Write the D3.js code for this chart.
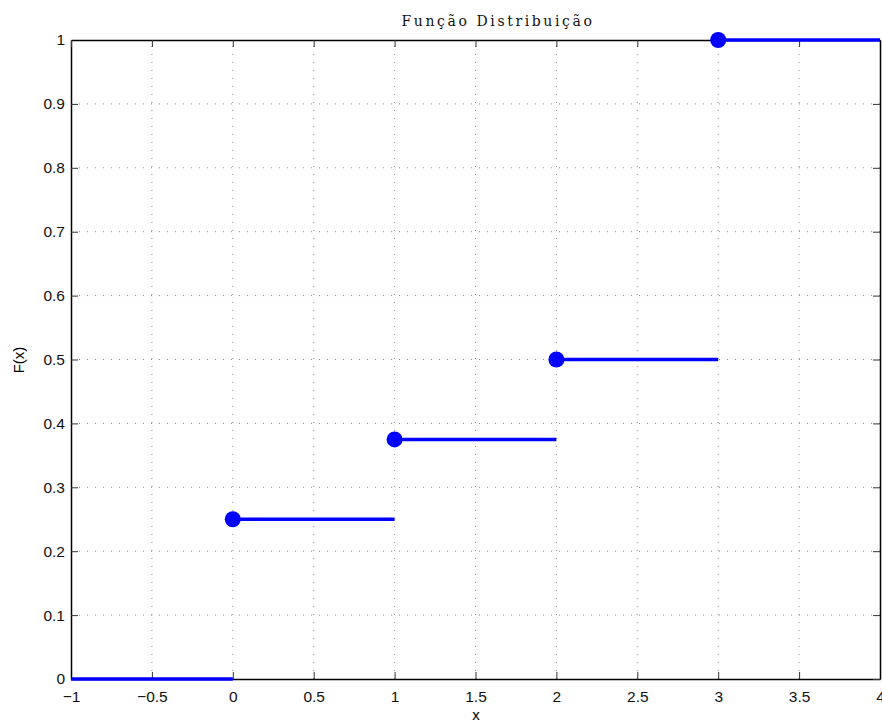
<!DOCTYPE html>
<html><head><meta charset="utf-8">
<script src="https://cdn.jsdelivr.net/npm/d3@7"></script>
<style>body{margin:0;background:#fff}svg{display:block}</style>
</head><body>
<script>
const segStart = [-1, 0, 1, 2, 3];
const segEnd   = [0, 1, 2, 3, 4];
const segValue = [0, 0.25, 0.375, 0.5, 1];
const dotX = [0, 1, 2, 3];
const dotY = [0.25, 0.375, 0.5, 1];
const xTicks = [-1, -0.5, 0, 0.5, 1, 1.5, 2, 2.5, 3, 3.5, 4];
const yTicks = [0, 0.1, 0.2, 0.3, 0.4, 0.5, 0.6, 0.7, 0.8, 0.9, 1];
const titleText = "Função Distribuição";
const xLabel = "x", yLabel = "F(x)";

const W = 882, H = 723;
const m = {left: 71, right: 2, top: 40, bottom: 44};
const svg = d3.select("body").append("svg").attr("width", W).attr("height", H);
const x = d3.scaleLinear().domain([-1, 4]).range([m.left, W - m.right]);
const y = d3.scaleLinear().domain([0, 1]).range([H - m.bottom, m.top]);
const fmt = d => d < 0 ? "\u2212" + Math.abs(d) : String(d);

// grid
const g = svg.append("g");
g.selectAll(".gx").data(xTicks.slice(1, -1)).join("line")
  .attr("x1", d => x(d)).attr("x2", d => x(d)).attr("y1", y(0)).attr("y2", y(1))
  .attr("stroke", "#888").attr("stroke-width", 1).attr("stroke-dasharray", "1,7");
g.selectAll(".gy").data(yTicks.slice(1, -1)).join("line")
  .attr("y1", d => y(d)).attr("y2", d => y(d)).attr("x1", x(-1)).attr("x2", x(4))
  .attr("stroke", "#888").attr("stroke-width", 1).attr("stroke-dasharray", "1,7");

// axes
const ax = svg.append("g").attr("transform", `translate(0,${y(0)})`)
  .call(d3.axisBottom(x).tickValues(xTicks).tickFormat(fmt).tickSizeInner(-7).tickSizeOuter(0).tickPadding(12));
const ay = svg.append("g").attr("transform", `translate(${x(-1)},0)`)
  .call(d3.axisLeft(y).tickValues(yTicks).tickFormat(d => String(d)).tickSizeInner(-7).tickSizeOuter(0).tickPadding(6));
const at = svg.append("g").attr("transform", `translate(0,${y(1)})`)
  .call(d3.axisTop(x).tickValues(xTicks).tickFormat("").tickSizeInner(-7).tickSizeOuter(0));
const ar = svg.append("g").attr("transform", `translate(${x(4)},0)`)
  .call(d3.axisRight(y).tickValues(yTicks).tickFormat("").tickSizeInner(-7).tickSizeOuter(0));
[ax, ay, at, ar].forEach(a => {
  a.selectAll("path").attr("stroke", "#000").attr("stroke-width", 1.5);
  a.selectAll("line").attr("stroke", "#333").attr("stroke-width", 1);
  a.selectAll("text").attr("font-family", "Liberation Sans, Arial, sans-serif").attr("font-size", 15.5).attr("fill", "#111");
});

// data
const data = segStart.map((s, i) => ({s, e: segEnd[i], v: segValue[i]}));
svg.selectAll(".seg").data(data).join("line")
  .attr("x1", d => x(d.s)).attr("x2", d => x(d.e))
  .attr("y1", d => y(d.v)).attr("y2", d => y(d.v))
  .attr("stroke", "#0000ff").attr("stroke-width", 3.5);
svg.selectAll(".dot").data(dotX.map((d, i) => ({x: d, y: dotY[i]}))).join("circle")
  .attr("cx", d => x(d.x)).attr("cy", d => y(d.y)).attr("r", 8).attr("fill", "#0000ff");

// labels
svg.append("text").attr("x", 498).attr("y", 26).attr("text-anchor", "middle")
  .attr("font-family", "DejaVu Serif, Liberation Serif, serif").attr("font-size", 14)
  .attr("letter-spacing", 2.6).attr("fill", "#111").text(titleText);
svg.append("text").attr("x", 476).attr("y", 720).attr("text-anchor", "middle")
  .attr("font-family", "Liberation Sans, Arial, sans-serif").attr("font-size", 15).text(xLabel);
svg.append("text").attr("transform", "translate(24,360) rotate(-90)").attr("text-anchor", "middle")
  .attr("font-family", "Liberation Sans, Arial, sans-serif").attr("font-size", 15).text(yLabel);
</script>
</body></html>
